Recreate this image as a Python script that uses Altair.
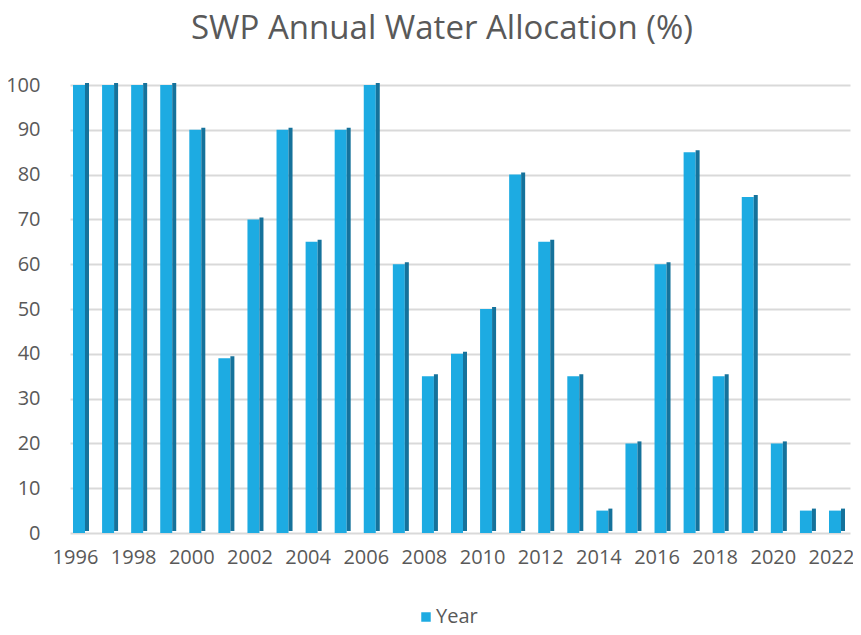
import altair as alt
import pandas as pd

years = list(range(1996, 2023))
allocation = [100, 100, 100, 100, 90, 39, 70, 90, 65, 90, 100, 60, 35, 40, 50,
              80, 65, 35, 5, 20, 60, 85, 35, 75, 20, 5, 5]
series_name = ["Year"] * len(years)
tick_years = list(range(1996, 2023, 2))
y_ticks = list(range(0, 101, 10))

df = pd.DataFrame({"year": years, "value": allocation, "series": series_name})

FONT = "Open Sans"
GRAY = "#595959"
FRONT = "#1DABE2"
SIDE = "#15729B"

xscale = alt.Scale(domain=[1995.6905, 2022.516], nice=False, zero=False, padding=0)
yscale = alt.Scale(domain=[0, 100], nice=False, padding=0)

base = alt.Chart(df)

front = base.mark_bar(width=12).encode(
    x=alt.X("year:Q", scale=xscale,
            axis=alt.Axis(values=tick_years, format="d", title=None, grid=False,
                          domain=False, ticks=False, labelFontSize=20,
                          labelFont=FONT, labelColor=GRAY, labelPadding=14,
                          labelOffset=-4, labelFlush=False)),
    y=alt.Y("value:Q", scale=yscale,
            axis=alt.Axis(values=y_ticks, title=None, domain=False, ticks=False,
                          gridColor="#D9D9D9", gridWidth=2, labelFontSize=20,
                          labelFont=FONT, labelColor=GRAY, labelPadding=30)),
    color=alt.Color("series:N", scale=alt.Scale(range=[FRONT]),
                    legend=alt.Legend(title=None, orient="none", legendX=346,
                                      legendY=522, symbolType="square",
                                      symbolSize=90, symbolStrokeWidth=0,
                                      symbolOpacity=1, labelFontSize=20,
                                      labelFont=FONT, labelColor=GRAY,
                                      padding=0, labelOffset=0)),
)

side = base.mark_bar(width=4, xOffset=8, yOffset=-2, y2Offset=-2, color=SIDE).encode(
    x=alt.X("year:Q", scale=xscale),
    y=alt.Y("value:Q", scale=yscale),
)

chart = alt.layer(front, side).properties(
    width=780,
    height=448,
    autosize=alt.AutoSizeParams(type="none"),
    padding={"left": 62, "top": 77, "right": 3, "bottom": 94},
    title=alt.TitleParams("SWP Annual Water Allocation (%)", fontSize=33,
                          font=FONT, fontWeight="normal", color=GRAY,
                          anchor="middle", dx=-18, offset=29),
).configure_view(stroke=None)

chart.save("out.html", embed_options={"renderer": "svg", "actions": False})
